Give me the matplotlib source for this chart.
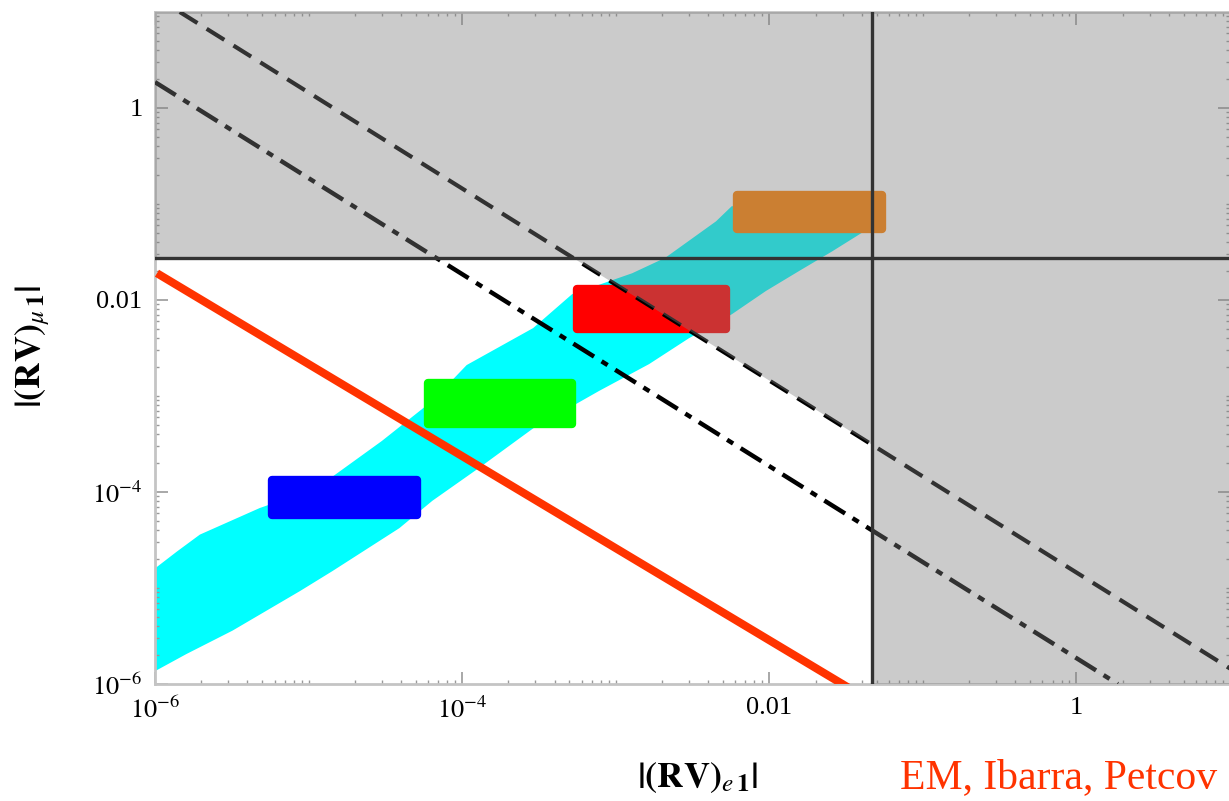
import numpy as np
import matplotlib
matplotlib.use("Agg")
import matplotlib.pyplot as plt
from matplotlib.ticker import FixedLocator, FixedFormatter, LogLocator, NullFormatter

plt.rcParams['font.family'] = ['Liberation Serif', 'DejaVu Serif']
plt.rcParams['mathtext.fontset'] = 'stix'

# limites de los ejes
x_lim = [1e-6, 10]
y_lim = [1e-6, 10]

# cotas experimentales
y_cota = 0.0274      # |(RV)_mu1| maximo (linea horizontal)
x_cota = 0.0467      # |(RV)_e1| maximo (linea vertical)
prod_cota = 1.45e-5  # |(RV)_e1 (RV)_mu1| (linea discontinua)
prod_futuro = 1.86e-6  # sensibilidad futura (punto-raya)

# linea roja
roja_x = [1.03e-6, 0.033]
roja_y = [0.019, 9.1e-7]

# banda cian (borde superior de izq. a der., borde inferior de der. a izq.)
banda_sup_x = [1.0e-6, 1.39e-6, 1.96e-6, 4.8e-6, 1.13e-5, 3.0e-5, 6.4e-5, 1.07e-4,
               2.9e-4, 5.2e-4, 1.28e-3, 2.1e-3, 4.5e-3, 5.7e-3, 4.0e-2]
banda_sup_y = [1.6e-5, 2.4e-5, 3.6e-5, 6.8e-5, 1.1e-4, 3.4e-4, 8.9e-4, 2.1e-3,
               5.1e-3, 1.15e-2, 1.9e-2, 2.75e-2, 6.6e-2, 9.5e-2, 7.0e-2]
banda_inf_x = [4.0e-2, 2.56e-2, 1.56e-2, 9.5e-3, 5.7e-3, 3.0e-3, 1.65e-3, 7.8e-4,
               2.9e-4, 1.3e-4, 6.4e-5, 3.9e-5, 1.43e-5, 8.8e-6, 3.2e-6, 1.6e-6, 1.0e-6]
banda_inf_y = [5.0e-2, 3.2e-2, 2.0e-2, 1.24e-2, 7.1e-3, 4.0e-3, 2.15e-3, 1.13e-3,
               4.6e-4, 1.8e-4, 8.1e-5, 4.2e-5, 1.5e-5, 9.3e-6, 3.6e-6, 2.05e-6, 1.36e-6]

# manchas de colores: (x_min, x_max, y_min, y_max)
manchas = {
    '#0000ff': (5.75e-6, 5.1e-5, 5.75e-5, 1.32e-4),
    '#00ff00': (6.0e-5, 5.2e-4, 5.1e-4, 1.38e-3),
    '#ff0000': (5.6e-4, 5.2e-3, 5.0e-3, 1.29e-2),
    '#ff8000': (6.2e-3, 5.4e-2, 5.5e-2, 0.124),
}

fig = plt.figure(figsize=(12.29, 8.01), dpi=100)
ax = fig.add_axes([155 / 1229, 117 / 801, 1075 / 1229, 672 / 801])
ax.set_xscale('log')
ax.set_yscale('log')
ax.set_xlim(x_lim)
ax.set_ylim(y_lim)

# banda de puntos
ax.fill(banda_sup_x + banda_inf_x, banda_sup_y + banda_inf_y,
        color='#00ffff', lw=0, zorder=1)

# manchas
for color, (x0, x1, y0, y1) in manchas.items():
    ax.fill([x0, x1, x1, x0], [y0, y0, y1, y1], facecolor=color, edgecolor=color,
            lw=6, joinstyle='round', zorder=2)

# lineas de cotas
xs = np.array([prod_cota / y_lim[1], x_lim[1]])
ax.plot(xs, prod_cota / xs, color='black', lw=3, dashes=(5.0, 2.6), zorder=3)
xs2 = np.array([x_lim[0], prod_futuro / y_lim[0]])
ax.plot(xs2, prod_futuro / xs2, color='black', lw=3.2, dashes=(5.5, 2.0, 1.6, 2.0), zorder=3)

# region excluida (gris semitransparente encima)
excl_x = [x_lim[0], x_lim[1], x_lim[1], x_cota, x_cota, prod_cota / y_cota, x_lim[0]]
excl_y = [y_lim[1], y_lim[1], y_lim[0], y_lim[0], prod_cota / x_cota, y_cota, y_cota]
ax.fill(excl_x, excl_y, facecolor='#7f7f7f', alpha=0.4, lw=0, zorder=4)

ax.axhline(y_cota, color='#333333', lw=2.4, zorder=5)
ax.axvline(x_cota, color='#333333', lw=2.4, zorder=5)

ax.plot(roja_x, roja_y, color='#ff3300', lw=5.8, solid_capstyle='butt', zorder=6)

# ejes
for s in ax.spines.values():
    s.set_color('#c4c4c4')
    s.set_linewidth(2)
ticks = [1e-6, 1e-4, 1e-2, 1]
etiquetas = [r'$10^{-6}$', r'$10^{-4}$', '0.01', '1']
for eje in (ax.xaxis, ax.yaxis):
    eje.set_major_locator(FixedLocator(ticks))
    eje.set_major_formatter(FixedFormatter(etiquetas))
    eje.set_minor_locator(LogLocator(base=10, subs=np.arange(1, 10), numticks=30))
    eje.set_minor_formatter(NullFormatter())
ax.tick_params(which='both', direction='in', color='#999999', top=True, right=True,
               labelsize=19)
ax.tick_params(which='major', length=9, width=1.2, pad=9)
ax.tick_params(which='minor', length=3, width=1)

fig.text(697 / 1229, 1 - 778 / 801, r'$\mathbf{|(RV)}_{e\,\mathbf{1}}\mathbf{|}$',
         fontsize=26, ha='center', va='center')
fig.text(33 / 1229, 1 - 347 / 801, r'$\mathbf{|(RV)}_{\mu\,\mathbf{1}}\mathbf{|}$',
         fontsize=26, ha='center', va='center', rotation=90)
fig.text(900 / 1229, 13 / 801, 'EM, Ibarra, Petcov', color='#ff3300', fontsize=30,
         ha='left', va='baseline')

fig.savefig('out.png', dpi=100)
